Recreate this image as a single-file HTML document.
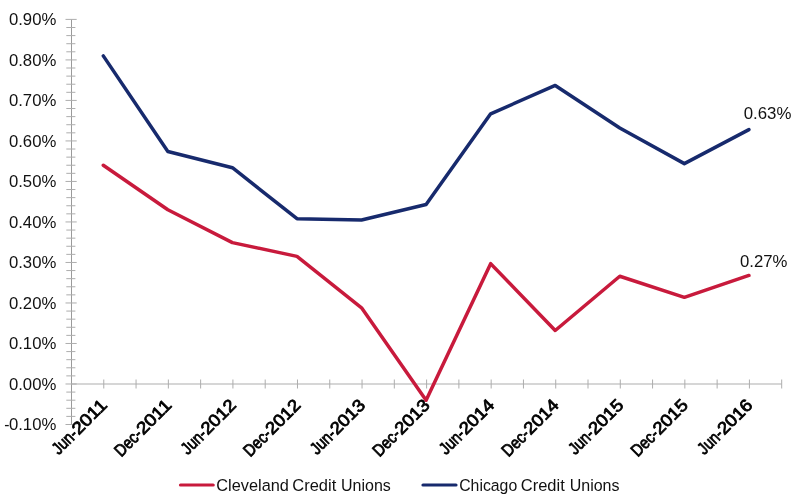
<!DOCTYPE html>
<html><head><meta charset="utf-8"><title>Chart</title>
<style>
html,body{margin:0;padding:0;background:#fff;}
body{width:800px;height:502px;overflow:hidden;font-family:"Liberation Sans",sans-serif;}
svg{display:block;}

text{font-family:"Liberation Sans",sans-serif;}
</style></head><body>
<svg width="800" height="502" viewBox="0 0 800 502">
<defs><filter id="nf" x="0" y="0" width="100%" height="100%" filterUnits="userSpaceOnUse" color-interpolation-filters="sRGB"><feOffset dx="0" dy="0"/></filter></defs>
<rect width="800" height="502" fill="#fff"/>
<g filter="url(#nf)">

<g stroke="#adadad" stroke-width="1" fill="none" shape-rendering="auto">
<line x1="71.5" y1="19.4" x2="71.5" y2="424.50" stroke="#9a9a9a"/>
<line x1="71.5" y1="384.0" x2="781.7" y2="384.0"/>
<line x1="65.5" y1="19.40" x2="76.7" y2="19.40"/>
<line x1="66.3" y1="27.50" x2="75.4" y2="27.50"/>
<line x1="66.3" y1="35.60" x2="75.4" y2="35.60"/>
<line x1="66.3" y1="43.71" x2="75.4" y2="43.71"/>
<line x1="66.3" y1="51.81" x2="75.4" y2="51.81"/>
<line x1="65.5" y1="59.91" x2="76.7" y2="59.91"/>
<line x1="66.3" y1="68.01" x2="75.4" y2="68.01"/>
<line x1="66.3" y1="76.11" x2="75.4" y2="76.11"/>
<line x1="66.3" y1="84.22" x2="75.4" y2="84.22"/>
<line x1="66.3" y1="92.32" x2="75.4" y2="92.32"/>
<line x1="65.5" y1="100.42" x2="76.7" y2="100.42"/>
<line x1="66.3" y1="108.52" x2="75.4" y2="108.52"/>
<line x1="66.3" y1="116.62" x2="75.4" y2="116.62"/>
<line x1="66.3" y1="124.73" x2="75.4" y2="124.73"/>
<line x1="66.3" y1="132.83" x2="75.4" y2="132.83"/>
<line x1="65.5" y1="140.93" x2="76.7" y2="140.93"/>
<line x1="66.3" y1="149.03" x2="75.4" y2="149.03"/>
<line x1="66.3" y1="157.13" x2="75.4" y2="157.13"/>
<line x1="66.3" y1="165.24" x2="75.4" y2="165.24"/>
<line x1="66.3" y1="173.34" x2="75.4" y2="173.34"/>
<line x1="65.5" y1="181.44" x2="76.7" y2="181.44"/>
<line x1="66.3" y1="189.54" x2="75.4" y2="189.54"/>
<line x1="66.3" y1="197.64" x2="75.4" y2="197.64"/>
<line x1="66.3" y1="205.75" x2="75.4" y2="205.75"/>
<line x1="66.3" y1="213.85" x2="75.4" y2="213.85"/>
<line x1="65.5" y1="221.95" x2="76.7" y2="221.95"/>
<line x1="66.3" y1="230.05" x2="75.4" y2="230.05"/>
<line x1="66.3" y1="238.15" x2="75.4" y2="238.15"/>
<line x1="66.3" y1="246.26" x2="75.4" y2="246.26"/>
<line x1="66.3" y1="254.36" x2="75.4" y2="254.36"/>
<line x1="65.5" y1="262.46" x2="76.7" y2="262.46"/>
<line x1="66.3" y1="270.56" x2="75.4" y2="270.56"/>
<line x1="66.3" y1="278.66" x2="75.4" y2="278.66"/>
<line x1="66.3" y1="286.77" x2="75.4" y2="286.77"/>
<line x1="66.3" y1="294.87" x2="75.4" y2="294.87"/>
<line x1="65.5" y1="302.97" x2="76.7" y2="302.97"/>
<line x1="66.3" y1="311.07" x2="75.4" y2="311.07"/>
<line x1="66.3" y1="319.17" x2="75.4" y2="319.17"/>
<line x1="66.3" y1="327.28" x2="75.4" y2="327.28"/>
<line x1="66.3" y1="335.38" x2="75.4" y2="335.38"/>
<line x1="65.5" y1="343.48" x2="76.7" y2="343.48"/>
<line x1="66.3" y1="351.58" x2="75.4" y2="351.58"/>
<line x1="66.3" y1="359.68" x2="75.4" y2="359.68"/>
<line x1="66.3" y1="367.79" x2="75.4" y2="367.79"/>
<line x1="66.3" y1="375.89" x2="75.4" y2="375.89"/>
<line x1="65.5" y1="383.99" x2="76.7" y2="383.99"/>
<line x1="66.3" y1="392.09" x2="75.4" y2="392.09"/>
<line x1="66.3" y1="400.19" x2="75.4" y2="400.19"/>
<line x1="66.3" y1="408.30" x2="75.4" y2="408.30"/>
<line x1="66.3" y1="416.40" x2="75.4" y2="416.40"/>
<line x1="65.5" y1="424.50" x2="76.7" y2="424.50"/>
<line x1="103.78" y1="379.5" x2="103.78" y2="388.5"/>
<line x1="136.06" y1="379.5" x2="136.06" y2="388.5"/>
<line x1="168.35" y1="379.5" x2="168.35" y2="388.5"/>
<line x1="200.63" y1="379.5" x2="200.63" y2="388.5"/>
<line x1="232.91" y1="379.5" x2="232.91" y2="388.5"/>
<line x1="265.19" y1="379.5" x2="265.19" y2="388.5"/>
<line x1="297.47" y1="379.5" x2="297.47" y2="388.5"/>
<line x1="329.75" y1="379.5" x2="329.75" y2="388.5"/>
<line x1="362.04" y1="379.5" x2="362.04" y2="388.5"/>
<line x1="394.32" y1="379.5" x2="394.32" y2="388.5"/>
<line x1="426.60" y1="379.5" x2="426.60" y2="388.5"/>
<line x1="458.88" y1="379.5" x2="458.88" y2="388.5"/>
<line x1="491.16" y1="379.5" x2="491.16" y2="388.5"/>
<line x1="523.45" y1="379.5" x2="523.45" y2="388.5"/>
<line x1="555.73" y1="379.5" x2="555.73" y2="388.5"/>
<line x1="588.01" y1="379.5" x2="588.01" y2="388.5"/>
<line x1="620.29" y1="379.5" x2="620.29" y2="388.5"/>
<line x1="652.57" y1="379.5" x2="652.57" y2="388.5"/>
<line x1="684.85" y1="379.5" x2="684.85" y2="388.5"/>
<line x1="717.14" y1="379.5" x2="717.14" y2="388.5"/>
<line x1="749.42" y1="379.5" x2="749.42" y2="388.5"/>
<line x1="781.70" y1="379.5" x2="781.70" y2="388.5"/>
</g>
<text x="56.3" y="25.15" font-size="15.7" text-anchor="end" fill="#111" textLength="47.4" lengthAdjust="spacingAndGlyphs">0.90%</text>
<text x="56.3" y="65.66" font-size="15.7" text-anchor="end" fill="#111" textLength="47.4" lengthAdjust="spacingAndGlyphs">0.80%</text>
<text x="56.3" y="106.17" font-size="15.7" text-anchor="end" fill="#111" textLength="47.4" lengthAdjust="spacingAndGlyphs">0.70%</text>
<text x="56.3" y="146.68" font-size="15.7" text-anchor="end" fill="#111" textLength="47.4" lengthAdjust="spacingAndGlyphs">0.60%</text>
<text x="56.3" y="187.19" font-size="15.7" text-anchor="end" fill="#111" textLength="47.4" lengthAdjust="spacingAndGlyphs">0.50%</text>
<text x="56.3" y="227.70" font-size="15.7" text-anchor="end" fill="#111" textLength="47.4" lengthAdjust="spacingAndGlyphs">0.40%</text>
<text x="56.3" y="268.21" font-size="15.7" text-anchor="end" fill="#111" textLength="47.4" lengthAdjust="spacingAndGlyphs">0.30%</text>
<text x="56.3" y="308.72" font-size="15.7" text-anchor="end" fill="#111" textLength="47.4" lengthAdjust="spacingAndGlyphs">0.20%</text>
<text x="56.3" y="349.23" font-size="15.7" text-anchor="end" fill="#111" textLength="47.4" lengthAdjust="spacingAndGlyphs">0.10%</text>
<text x="56.3" y="389.74" font-size="15.7" text-anchor="end" fill="#111" textLength="47.4" lengthAdjust="spacingAndGlyphs">0.00%</text>
<text x="4.3" y="430.25" font-size="15.7" fill="#111">-</text>
<text x="56.3" y="430.25" font-size="15.7" text-anchor="end" fill="#111" textLength="47.4" lengthAdjust="spacingAndGlyphs">0.10%</text>
<polyline points="103.28,165.25 167.85,209.81 232.41,242.62 296.97,256.39 361.54,307.84 426.10,400.20 490.66,263.69 555.23,330.53 619.79,276.24 684.35,297.31 748.92,275.43" fill="none" stroke="#c81a3c" stroke-width="3.5" stroke-linecap="round" stroke-linejoin="round"/>
<polyline points="103.28,55.87 167.85,151.47 232.41,167.68 296.97,218.72 361.54,219.93 426.10,204.54 490.66,113.80 555.23,85.44 619.79,127.98 684.35,163.63 748.92,129.60" fill="none" stroke="#172a6d" stroke-width="3.5" stroke-linecap="round" stroke-linejoin="round"/>
<text x="743.7" y="118.6" font-size="15.7" fill="#111" textLength="47.7" lengthAdjust="spacingAndGlyphs">0.63%</text>
<text x="740.0" y="267.0" font-size="15.7" fill="#111" textLength="47.5" lengthAdjust="spacingAndGlyphs">0.27%</text>
<g transform="translate(58.69,455.49) rotate(-45)" font-size="17.2" fill="#000" stroke="#000" stroke-width="0.8"><text x="0" y="0" textLength="28.21" lengthAdjust="spacingAndGlyphs">Jun-</text><text x="28.21" y="0" textLength="41.5" lengthAdjust="spacingAndGlyphs">2011</text></g>
<g transform="translate(121.24,457.51) rotate(-45)" font-size="17.2" fill="#000" stroke="#000" stroke-width="0.8"><text x="0" y="0" textLength="31.06" lengthAdjust="spacingAndGlyphs">Dec-</text><text x="31.06" y="0" textLength="41.5" lengthAdjust="spacingAndGlyphs">2011</text></g>
<g transform="translate(187.82,455.49) rotate(-45)" font-size="17.2" fill="#000" stroke="#000" stroke-width="0.8"><text x="0" y="0" textLength="28.21" lengthAdjust="spacingAndGlyphs">Jun-</text><text x="28.21" y="0" textLength="41.5" lengthAdjust="spacingAndGlyphs">2012</text></g>
<g transform="translate(250.36,457.51) rotate(-45)" font-size="17.2" fill="#000" stroke="#000" stroke-width="0.8"><text x="0" y="0" textLength="31.06" lengthAdjust="spacingAndGlyphs">Dec-</text><text x="31.06" y="0" textLength="41.5" lengthAdjust="spacingAndGlyphs">2012</text></g>
<g transform="translate(316.95,455.49) rotate(-45)" font-size="17.2" fill="#000" stroke="#000" stroke-width="0.8"><text x="0" y="0" textLength="28.21" lengthAdjust="spacingAndGlyphs">Jun-</text><text x="28.21" y="0" textLength="41.5" lengthAdjust="spacingAndGlyphs">2013</text></g>
<g transform="translate(379.49,457.51) rotate(-45)" font-size="17.2" fill="#000" stroke="#000" stroke-width="0.8"><text x="0" y="0" textLength="31.06" lengthAdjust="spacingAndGlyphs">Dec-</text><text x="31.06" y="0" textLength="41.5" lengthAdjust="spacingAndGlyphs">2013</text></g>
<g transform="translate(446.07,455.49) rotate(-45)" font-size="17.2" fill="#000" stroke="#000" stroke-width="0.8"><text x="0" y="0" textLength="28.21" lengthAdjust="spacingAndGlyphs">Jun-</text><text x="28.21" y="0" textLength="41.5" lengthAdjust="spacingAndGlyphs">2014</text></g>
<g transform="translate(508.62,457.51) rotate(-45)" font-size="17.2" fill="#000" stroke="#000" stroke-width="0.8"><text x="0" y="0" textLength="31.06" lengthAdjust="spacingAndGlyphs">Dec-</text><text x="31.06" y="0" textLength="41.5" lengthAdjust="spacingAndGlyphs">2014</text></g>
<g transform="translate(575.20,455.49) rotate(-45)" font-size="17.2" fill="#000" stroke="#000" stroke-width="0.8"><text x="0" y="0" textLength="28.21" lengthAdjust="spacingAndGlyphs">Jun-</text><text x="28.21" y="0" textLength="41.5" lengthAdjust="spacingAndGlyphs">2015</text></g>
<g transform="translate(637.75,457.51) rotate(-45)" font-size="17.2" fill="#000" stroke="#000" stroke-width="0.8"><text x="0" y="0" textLength="31.06" lengthAdjust="spacingAndGlyphs">Dec-</text><text x="31.06" y="0" textLength="41.5" lengthAdjust="spacingAndGlyphs">2015</text></g>
<g transform="translate(704.33,455.49) rotate(-45)" font-size="17.2" fill="#000" stroke="#000" stroke-width="0.8"><text x="0" y="0" textLength="28.21" lengthAdjust="spacingAndGlyphs">Jun-</text><text x="28.21" y="0" textLength="41.5" lengthAdjust="spacingAndGlyphs">2016</text></g>
<line x1="180.5" y1="485" x2="213.2" y2="485" stroke="#c81a3c" stroke-width="3.2" stroke-linecap="round"/>
<text x="216.3" y="490.6" font-size="16.3" fill="#111" textLength="72.6" lengthAdjust="spacingAndGlyphs">Cleveland</text>
<text x="292.3" y="490.6" font-size="16.3" fill="#111" textLength="44" lengthAdjust="spacingAndGlyphs">Credit</text>
<text x="341.0" y="490.6" font-size="16.3" fill="#111" textLength="49.8" lengthAdjust="spacingAndGlyphs">Unions</text>
<text x="459.2" y="490.6" font-size="16.3" fill="#111" textLength="58" lengthAdjust="spacingAndGlyphs">Chicago</text>
<text x="520.8" y="490.6" font-size="16.3" fill="#111" textLength="44" lengthAdjust="spacingAndGlyphs">Credit</text>
<text x="569.7" y="490.6" font-size="16.3" fill="#111" textLength="49.8" lengthAdjust="spacingAndGlyphs">Unions</text>
<line x1="423" y1="485" x2="456" y2="485" stroke="#172a6d" stroke-width="3.2" stroke-linecap="round"/>
</g></svg></body></html>
